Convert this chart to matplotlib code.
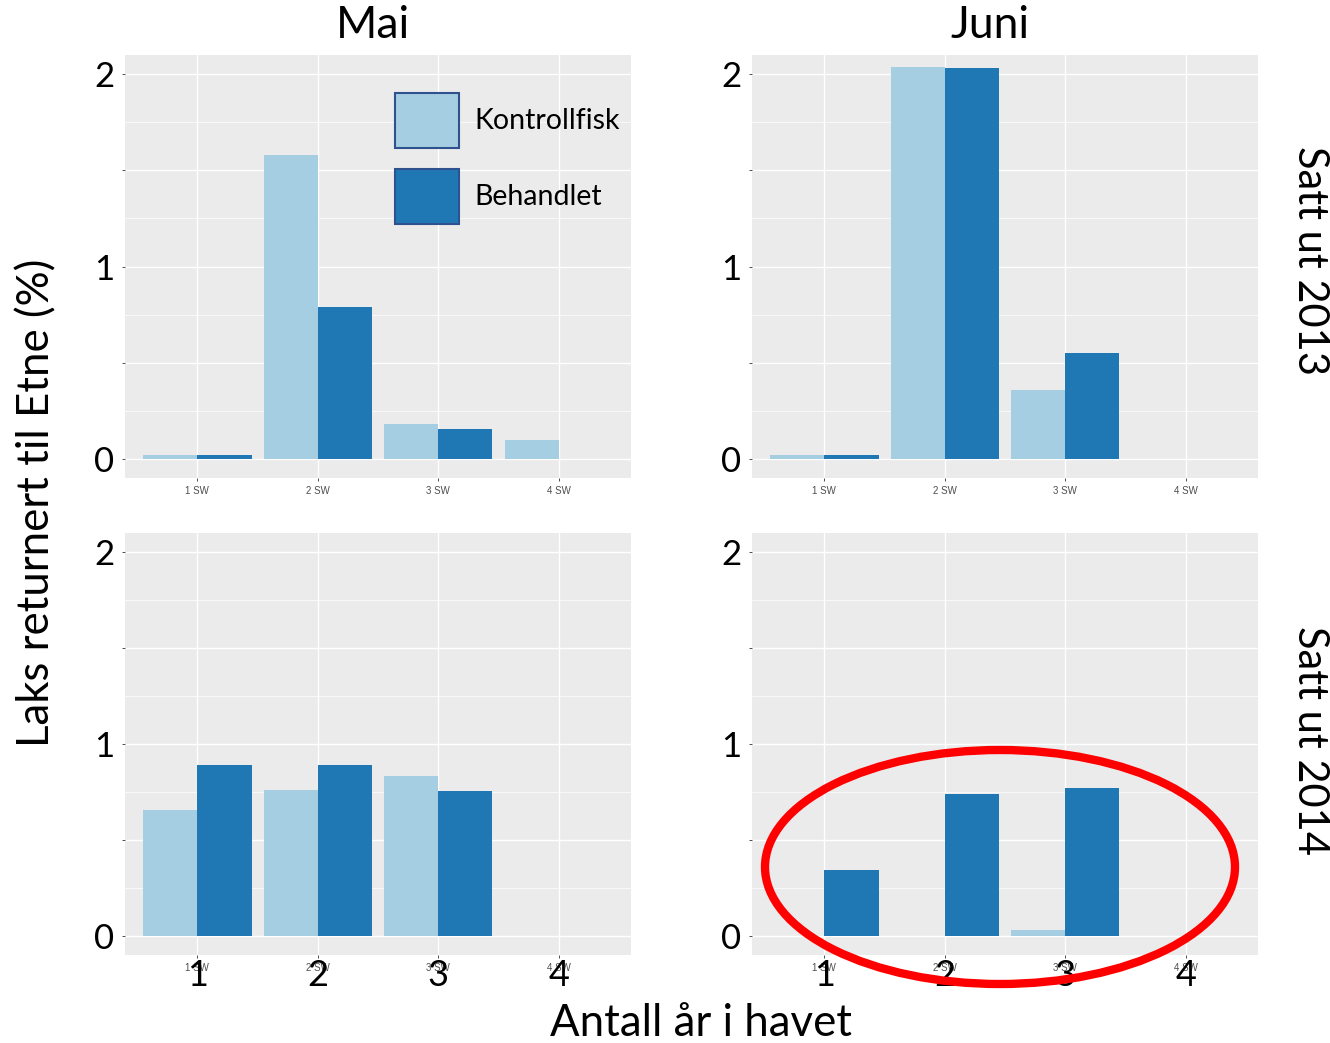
import matplotlib.pyplot as plt
from matplotlib.patches import Ellipse, Rectangle
import numpy as np

# data (% returned)
kategorier = ['1 SW', '2 SW', '3 SW', '4 SW']
mai_2013_kontroll = [0.02, 1.58, 0.18, 0.10]
mai_2013_behandlet = [0.02, 0.79, 0.155, 0.0]
juni_2013_kontroll = [0.02, 2.04, 0.36, 0.0]
juni_2013_behandlet = [0.02, 2.03, 0.55, 0.0]
mai_2014_kontroll = [0.655, 0.76, 0.835, 0.0]
mai_2014_behandlet = [0.89, 0.89, 0.755, 0.0]
juni_2014_kontroll = [0.0, 0.0, 0.03, 0.0]
juni_2014_behandlet = [0.345, 0.74, 0.77, 0.0]

maaneder = ['Mai', 'Juni']
aar = ['Satt ut 2013', 'Satt ut 2014']
big_xlabels = ['1', '2', '3', '4']
serier = ['Kontrollfisk', 'Behandlet']

farge_kontroll = '#A6CEE3'
farge_behandlet = '#1F78B4'
bakgrunn = '#EBEBEB'

plt.rcParams['font.family'] = ['Lato', 'DejaVu Sans']

W, H = 1330, 1043
fig = plt.figure(figsize=(W / 100, H / 100), dpi=100)


def px_axes(x0, y0, x1, y1):
    return fig.add_axes([x0 / W, 1 - y1 / H, (x1 - x0) / W, (y1 - y0) / H])


panel_data = {
    (0, 0): (mai_2013_kontroll, mai_2013_behandlet),
    (0, 1): (juni_2013_kontroll, juni_2013_behandlet),
    (1, 0): (mai_2014_kontroll, mai_2014_behandlet),
    (1, 1): (juni_2014_kontroll, juni_2014_behandlet),
}
col_x = [(125, 631), (752, 1258)]
row_y = [(55, 478), (533, 955)]
tittel_x = [373, 990]
strip_y = [261, 740]

x = np.arange(1, len(kategorier) + 1)
bw = 0.45

for (r, c), (kontroll, behandlet) in panel_data.items():
    ax = px_axes(col_x[c][0], row_y[r][0], col_x[c][1], row_y[r][1])
    ax.set_facecolor(bakgrunn)
    ax.bar(x - bw / 2, kontroll, width=bw, color=farge_kontroll, zorder=3)
    ax.bar(x + bw / 2, behandlet, width=bw, color=farge_behandlet, zorder=3)
    ax.set_xlim(0.4, 4.6)
    ax.set_ylim(-0.1, 2.1)
    ax.set_xticks(x)
    ax.set_xticklabels(kategorier, fontsize=7, color='#4D4D4D',
                       family=['Liberation Sans', 'DejaVu Sans'])
    ax.set_yticks([0, 0.5, 1, 1.5, 2])
    ax.set_yticklabels(['0', '', '1', '', '2'], fontsize=25, color='black')
    ax.set_yticks([0.25, 0.75, 1.25, 1.75], minor=True)
    ax.tick_params(axis='both', which='major', length=2.5, width=0.6,
                   color='#333333')
    ax.tick_params(axis='x', pad=3)
    ax.tick_params(axis='y', pad=5)
    ax.tick_params(axis='y', which='minor', length=0)
    ax.grid(which='major', color='white', linewidth=1.0, zorder=0)
    ax.grid(which='minor', axis='y', color='white', linewidth=0.5, zorder=0)
    for s in ax.spines.values():
        s.set_visible(False)
    if r == 1:
        for xi, lab in zip(x, big_xlabels):
            ax.text(xi, -20 / 422, lab, transform=ax.get_xaxis_transform(),
                    ha='center', va='center', fontsize=26)
    if r == 0:
        fig.text(tittel_x[c] / W, 1 - 25 / H, maaneder[c], ha='center',
                 va='center', fontsize=32)
    if c == 1:
        fig.text(1310 / W, 1 - strip_y[r] / H, aar[r], rotation=-90,
                 ha='center', va='center', fontsize=30)

fig.text(37 / W, 1 - 503 / H, 'Laks returnert til Etne (%)', rotation=90,
         ha='center', va='center', fontsize=31.5)
fig.text(701 / W, 1 - 1023 / H, 'Antall år i havet', ha='center',
         va='center', fontsize=31.5)

# legend drawn on top of the first panel
leg_boxes = [(395, 93, farge_kontroll), (395, 169, farge_behandlet)]
for (bx, by, col), navn in zip(leg_boxes, serier):
    fig.patches.append(Rectangle((bx / W, 1 - (by + 55) / H), 64 / W, 55 / H,
                                 transform=fig.transFigure, facecolor=col,
                                 edgecolor='#2F528F', linewidth=1.5))
    fig.text(474 / W, 1 - (by + 28) / H, navn, ha='left', va='center',
             fontsize=20.5)

# red ellipse highlighting Juni 2014
fig.patches.append(Ellipse((1000 / W, 1 - 867 / H), 470 / W, 234 / H,
                           transform=fig.transFigure, fill=False,
                           edgecolor='#FF0000', linewidth=6, zorder=10))

fig.savefig('out.png', dpi=100)
